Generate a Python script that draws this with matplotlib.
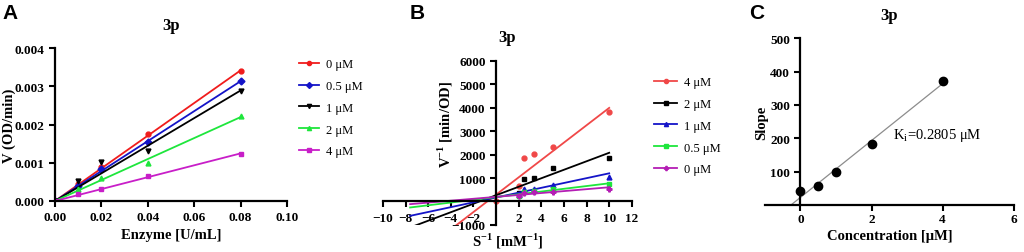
import numpy as np
import matplotlib
matplotlib.use("Agg")
import matplotlib.pyplot as plt
from matplotlib.lines import Line2D

plt.rcParams['font.family'] = ['Liberation Serif', 'DejaVu Serif']
plt.rcParams['font.weight'] = 'bold'
plt.rcParams['axes.linewidth'] = 1.6

# ---- panel A: velocity vs enzyme
enzyme = [0, 0.01, 0.02, 0.04, 0.08]
a_labels = ['0 \u03bcM', '0.5 \u03bcM', '1 \u03bcM', '2 \u03bcM', '4 \u03bcM']
a_values = [
    [0, 0.00045, 0.00089, 0.00174, 0.00339],
    [0, 0.00040, 0.00085, 0.00154, 0.00313],
    [0, 0.00052, 0.00102, 0.00130, 0.00287],
    [0, 0.00032, 0.00060, 0.00099, 0.00223],
    [0, 0.00017, 0.00031, 0.00065, 0.00123],
]
a_colors = ['#f01c1c', '#1414c8', '#000000', '#1ee63c', '#c81ec8']
a_markers = ['o', 'D', 'v', '^', 's']

# ---- panel B: Lineweaver-Burk
inv_s = [2, 2.5, 3.33, 5, 10]
b_labels = ['4 \u03bcM', '2 \u03bcM', '1 \u03bcM', '0.5 \u03bcM', '0 \u03bcM']
b_values = [
    [650, 1838, 2020, 2333, 3830],
    [355, 953, 980, 1410, 1850],
    [270, 525, 525, 697, 1040],
    [240, 410, 440, 530, 740],
    [230, 380, 420, 385, 526],
]
b_slopes = [370, 181, 103, 58.6, 40.9]
b_intercepts = [290, 266, 170, 189, 197]
b_colors = ['#f04848', '#000000', '#1414c8', '#1ee63c', '#b41eb4']
b_markers = ['o', 's', '^', 's', 'P']
b_extra = (0, 0)  # stray point near origin

# ---- panel C: replot of slopes
conc = [0, 0.5, 1, 2, 4]
slope_vals = [41, 57, 100, 183, 372]
ki_text = 'K$_\\mathregular{i}$=0.2805 \u03bcM'

fig = plt.figure(figsize=(10.24, 2.53), dpi=100)

tick_kw = dict(labelsize=9.5, width=1.5, length=4)
leg_prop = {'family': 'Liberation Serif', 'weight': 'normal', 'size': 9}

# A
axA = fig.add_axes([0.0537, 0.2016, 0.2266, 0.6044])
for vals, c, m in zip(a_values, a_colors, a_markers):
    x = np.array(enzyme)
    y = np.array(vals)
    k = (x * y).sum() / (x * x).sum()   # fit through origin
    xs = np.array([0, enzyme[-1]])
    axA.plot(xs, k * xs, color=c, lw=1.3)
    axA.plot(enzyme, vals, ls='none', marker=m, color=c, ms=3.5)
axA.set_xlim(0, 0.10)
axA.set_ylim(0, 0.004)
axA.set_xticks(np.arange(0, 0.101, 0.02))
axA.set_yticks(np.arange(0, 0.0041, 0.001))
axA.xaxis.set_major_formatter(matplotlib.ticker.FormatStrFormatter('%.2f'))
axA.yaxis.set_major_formatter(matplotlib.ticker.FormatStrFormatter('%.3f'))
axA.spines['top'].set_visible(False)
axA.spines['right'].set_visible(False)
axA.tick_params(**tick_kw)
axA.set_xlabel('Enzyme [U/mL]', fontsize=10.5, fontweight='bold', labelpad=3)
axA.set_ylabel('V (OD/min)', fontsize=10.5, fontweight='bold')
axA.yaxis.set_label_coords(-0.17, 0.5)
axA.set_title('3p', fontsize=12, fontweight='bold', pad=14)
hA = [Line2D([], [], color=c, marker=m, ms=3, lw=1.3) for c, m in zip(a_colors, a_markers)]
fig.legend(hA, a_labels, loc='upper left', bbox_to_anchor=(0.281, 0.81), frameon=False,
           prop=leg_prop, handlelength=1.6, handletextpad=0.6, labelspacing=0.78)

# B
axB = fig.add_axes([0.374, 0.107, 0.243, 0.649])
xs = np.array([-7.6, 10])
for vals, k, b, c, m in zip(b_values, b_slopes, b_intercepts, b_colors, b_markers):
    axB.plot(xs, k * xs + b, color=c, lw=1.3)
    axB.plot(inv_s, vals, ls='none', marker=m, color=c, ms=3.5)
axB.plot([b_extra[0]], [b_extra[1]], ls='none', marker='o', color=b_colors[0], ms=3.5)
axB.set_xlim(-10, 12)
axB.set_ylim(-1000, 6000)
axB.set_xticks([-10, -8, -6, -4, -2, 2, 4, 6, 8, 10, 12])
axB.set_yticks([-1000, 1000, 2000, 3000, 4000, 5000, 6000])
axB.spines['left'].set_position(('data', 0))
axB.spines['bottom'].set_position(('data', 0))
axB.spines['top'].set_visible(False)
axB.spines['right'].set_visible(False)
axB.tick_params(**tick_kw)
axB.set_xlabel('S$^\\mathregular{-1}$ [mM$^\\mathregular{-1}$]', fontsize=10.5, fontweight='bold')
axB.xaxis.set_label_coords(0.5, -0.035)
axB.set_ylabel('V$^\\mathregular{-1}$ [min/OD]', fontsize=10.5, fontweight='bold')
axB.yaxis.set_label_coords(0.29, 0.62)
axB.set_title('3p', fontsize=12, fontweight='bold', pad=14)
hB = [Line2D([], [], color=c, marker=m, ms=3, lw=1.3) for c, m in zip(b_colors, b_markers)]
fig.legend(hB, b_labels, loc='upper left', bbox_to_anchor=(0.628, 0.739), frameon=False,
           prop=leg_prop, handlelength=1.8, handletextpad=0.6, labelspacing=0.78)

# C
axC = fig.add_axes([0.747, 0.186, 0.243, 0.659])
k, b = np.polyfit(conc, slope_vals, 1)
xs = np.array([-b / k, conc[-1]])
axC.plot(xs, k * xs + b, color='#8c8c8c', lw=0.9)
axC.plot(conc, slope_vals, ls='none', marker='o', color='black', ms=6)
axC.set_xlim(-1, 6)
axC.set_ylim(0, 500)
axC.set_xticks([0, 2, 4, 6])
axC.set_yticks([100, 200, 300, 400, 500])
axC.spines['left'].set_position(('data', 0))
axC.spines['top'].set_visible(False)
axC.spines['right'].set_visible(False)
axC.tick_params(**tick_kw)
axC.tick_params(axis='x', pad=2)
axC.set_xlabel('Concentration [\u03bcM]', fontsize=10.5, fontweight='bold', labelpad=3)
axC.set_ylabel('Slope', fontsize=10.5, fontweight='bold')
axC.yaxis.set_label_coords(0.012, 0.50)
axC.set_title('3p', fontsize=12, fontweight='bold', pad=14)
axC.text(2.6, 210, ki_text, fontsize=10.5, fontweight='normal', family='Liberation Serif',
         va='center')

# panel letters
for x, y, s in [(0.002, 0.925, 'A'), (0.400, 0.925, 'B'), (0.732, 0.925, 'C')]:
    fig.text(x, y, s, fontsize=15, fontweight='bold', family='Liberation Sans')

fig.savefig('out.png', dpi=100)
